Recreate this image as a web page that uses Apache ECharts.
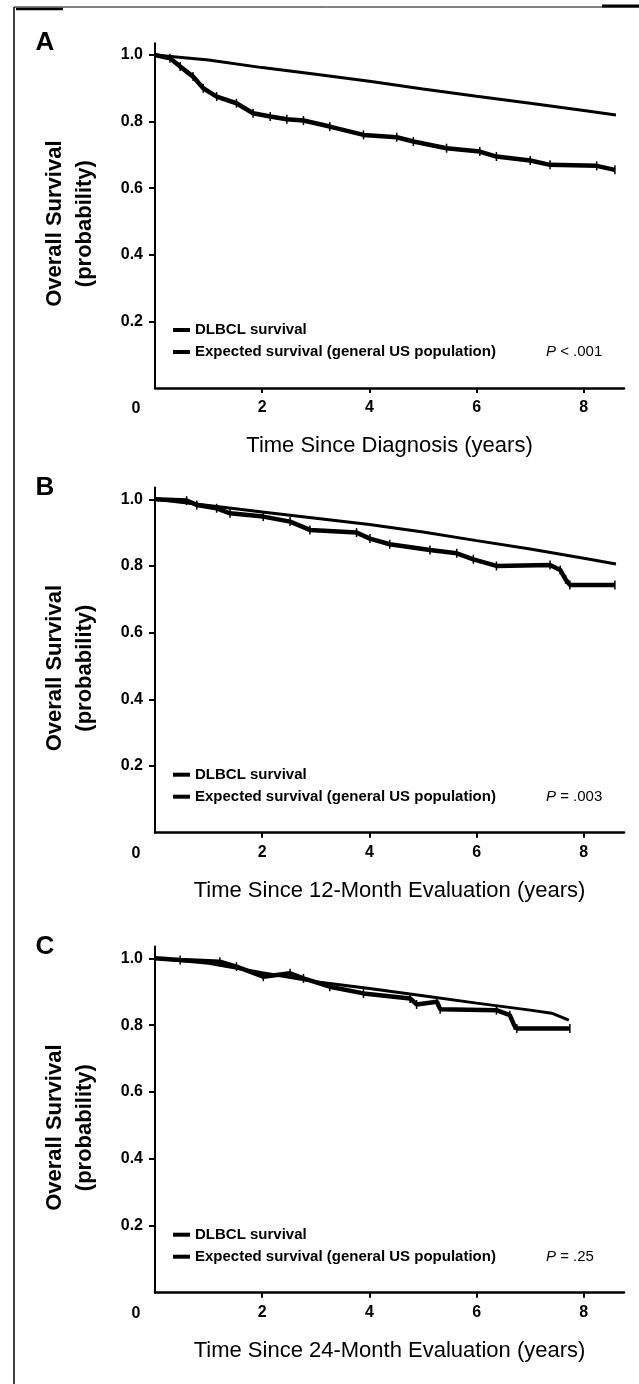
<!DOCTYPE html>
<html>
<head>
<meta charset="utf-8">
<script src="https://cdn.jsdelivr.net/npm/echarts@6/dist/echarts.min.js"></script>
<style>
html,body{margin:0;padding:0;background:#fff;}
#chart{width:639px;height:1384px;}
</style>
</head>
<body>
<div id="chart"></div>
<script>
// ---- data ----
const panelLetters = ['A', 'B', 'C'];
const xTitles = ['Time Since Diagnosis (years)', 'Time Since 12-Month Evaluation (years)', 'Time Since 24-Month Evaluation (years)'];
const pTexts = ['< .001', '= .003', '= .25'];
const xTickValues = [2, 4, 6, 8];
const yTickValues = [0.2, 0.4, 0.6, 0.8, 1.0];
const seriesNames = ['DLBCL survival', 'Expected survival (general US population)'];

const dlbclA = [[0,1.0],[0.28,0.99],[0.47,0.965],[0.71,0.935],[0.9,0.9],[1.15,0.875],[1.52,0.855],[1.83,0.825],[2.15,0.815],[2.46,0.807],[2.77,0.803],[3.26,0.785],[3.89,0.76],[4.51,0.753],[4.82,0.74],[5.44,0.72],[6.06,0.71],[6.37,0.695],[7.0,0.683],[7.37,0.67],[8.24,0.667],[8.58,0.655]];
const expectedA = [[0,1.0],[1,0.985],[2,0.962],[3,0.942],[4,0.921],[5,0.898],[6,0.876],[7,0.855],[8,0.833],[8.6,0.82]];

const dlbclB = [[0,1.0],[0.59,0.996],[0.78,0.983],[1.15,0.973],[1.4,0.958],[2.02,0.948],[2.52,0.933],[2.89,0.908],[3.76,0.9],[4.01,0.882],[4.38,0.865],[5.13,0.848],[5.63,0.838],[5.94,0.82],[6.37,0.8],[7.37,0.803],[7.56,0.788],[7.66,0.76],[7.74,0.743],[8.58,0.743]];
const expectedB = [[0,1.0],[1,0.981],[2,0.962],[3,0.943],[4,0.924],[5,0.902],[6,0.876],[7,0.851],[8,0.823],[8.6,0.806]];

const dlbclC = [[0,1.0],[0.47,0.995],[1.21,0.99],[1.52,0.975],[2.02,0.945],[2.52,0.955],[2.77,0.94],[3.26,0.915],[3.89,0.895],[4.76,0.88],[4.88,0.862],[5.26,0.87],[5.32,0.848],[6.37,0.845],[6.62,0.83],[6.7,0.8],[6.75,0.79],[7.74,0.79]];
const expectedC = [[0,1.0],[1,0.985],[2,0.957],[3,0.93],[4,0.91],[5,0.888],[6,0.866],[7,0.845],[7.4,0.836],[7.72,0.815]];

const dlbclAll = [dlbclA, dlbclB, dlbclC];
const expectedAll = [expectedA, expectedB, expectedC];

// ---- layout ----
const FONT = '"Liberation Sans", Arial, Helvetica, sans-serif';
const grids = [
  {left: 155, top: 43.3, width: 469, height: 344.7},
  {left: 155, top: 487.6, width: 469, height: 345.1},
  {left: 155, top: 946.6, width: 469, height: 346.1}
];
const yMax = 1.035;

const chart = echarts.init(document.getElementById('chart'), null, {renderer: 'canvas'});

const xAxes = [], yAxes = [], series = [], legends = [], graphics = [];
grids.forEach((g, i) => {
  xAxes.push({
    gridIndex: i, type: 'value', min: 0, max: 8.75,
    axisLine: {show: true, onZero: false, lineStyle: {color: '#000', width: 2.5}},
    axisTick: {show: true, customValues: xTickValues, length: 5, lineStyle: {color: '#000', width: 2}},
    axisLabel: {customValues: xTickValues, margin: 12, fontSize: 16, fontWeight: 'bold', color: '#000', fontFamily: FONT},
    splitLine: {show: false},
    name: xTitles[i], nameLocation: 'middle', nameGap: 47,
    nameTextStyle: {fontSize: 22, color: '#000', fontFamily: FONT}
  });
  yAxes.push({
    gridIndex: i, type: 'value', min: 0, max: yMax,
    axisLine: {show: true, onZero: false, lineStyle: {color: '#000', width: 2}},
    axisTick: {show: true, customValues: yTickValues, length: 6, lineStyle: {color: '#000', width: 2}},
    axisLabel: {customValues: yTickValues, margin: 12, fontSize: 16, fontWeight: 'bold', color: '#000', fontFamily: FONT,
      formatter: v => v.toFixed(1)},
    splitLine: {show: false},
    name: 'Overall Survival\n(probability)', nameLocation: 'middle', nameRotate: 90, nameGap: 55,
    nameTextStyle: {fontSize: 22, fontWeight: 'bold', lineHeight: 30, color: '#000', fontFamily: FONT, padding: [0, 16, 0, 0]}
  });
  series.push({
    name: seriesNames[1], type: 'line', xAxisIndex: i, yAxisIndex: i,
    data: expectedAll[i], showSymbol: false, silent: true,
    lineStyle: {color: '#000', width: 3}, itemStyle: {color: '#000'}, z: 3
  });
  series.push({
    name: seriesNames[0], type: 'line', xAxisIndex: i, yAxisIndex: i,
    data: dlbclAll[i], showSymbol: true, symbol: 'rect', symbolSize: [1.5, 9], silent: true,
    lineStyle: {color: '#000', width: 4.5}, itemStyle: {color: '#000'}, z: 4
  });
  const axisY = g.top + g.height;
  legends.push({
    orient: 'vertical', left: 173, top: axisY - 66, padding: 0,
    itemWidth: 17, itemHeight: 4, itemGap: 6, icon: 'rect',
    selectedMode: false,
    data: seriesNames,
    textStyle: {fontSize: 15, fontWeight: 'bold', color: '#000', fontFamily: FONT, lineHeight: 16}
  });
  graphics.push({
    type: 'text', x: 546, y: axisY - 36,
    style: {text: '{i|P} ' + pTexts[i], rich: {i: {fontStyle: 'italic', fontSize: 15, fontFamily: FONT, fill: '#000'}},
      fontSize: 15, fontFamily: FONT, fill: '#000', verticalAlign: 'middle', align: 'left'}
  });
  graphics.push({
    type: 'text', x: 136, y: axisY + 21,
    style: {text: '0', fontSize: 16, fontWeight: 'bold', fontFamily: FONT, fill: '#000', align: 'center', verticalAlign: 'middle'}
  });
  graphics.push({
    type: 'text', x: 45, y: g.top - 0,
    style: {text: panelLetters[i], fontSize: 26, fontWeight: 'bold', fontFamily: FONT, fill: '#000', align: 'center', verticalAlign: 'middle'}
  });
});

// frame decoration
graphics.push({type: 'line', shape: {x1: 14, y1: 7, x2: 14, y2: 1384}, style: {stroke: '#000', lineWidth: 1.5}});
graphics.push({type: 'line', shape: {x1: 14, y1: 7, x2: 639, y2: 7}, style: {stroke: '#000', lineWidth: 1}});
graphics.push({type: 'line', shape: {x1: 16, y1: 9, x2: 63, y2: 9}, style: {stroke: '#000', lineWidth: 2.5}});
graphics.push({type: 'line', shape: {x1: 602, y1: 6, x2: 639, y2: 6}, style: {stroke: '#000', lineWidth: 3}});

chart.setOption({
  animation: false,
  backgroundColor: '#fff',
  grid: grids,
  xAxis: xAxes,
  yAxis: yAxes,
  legend: legends,
  series: series,
  graphic: graphics
});
</script>
</body>
</html>
